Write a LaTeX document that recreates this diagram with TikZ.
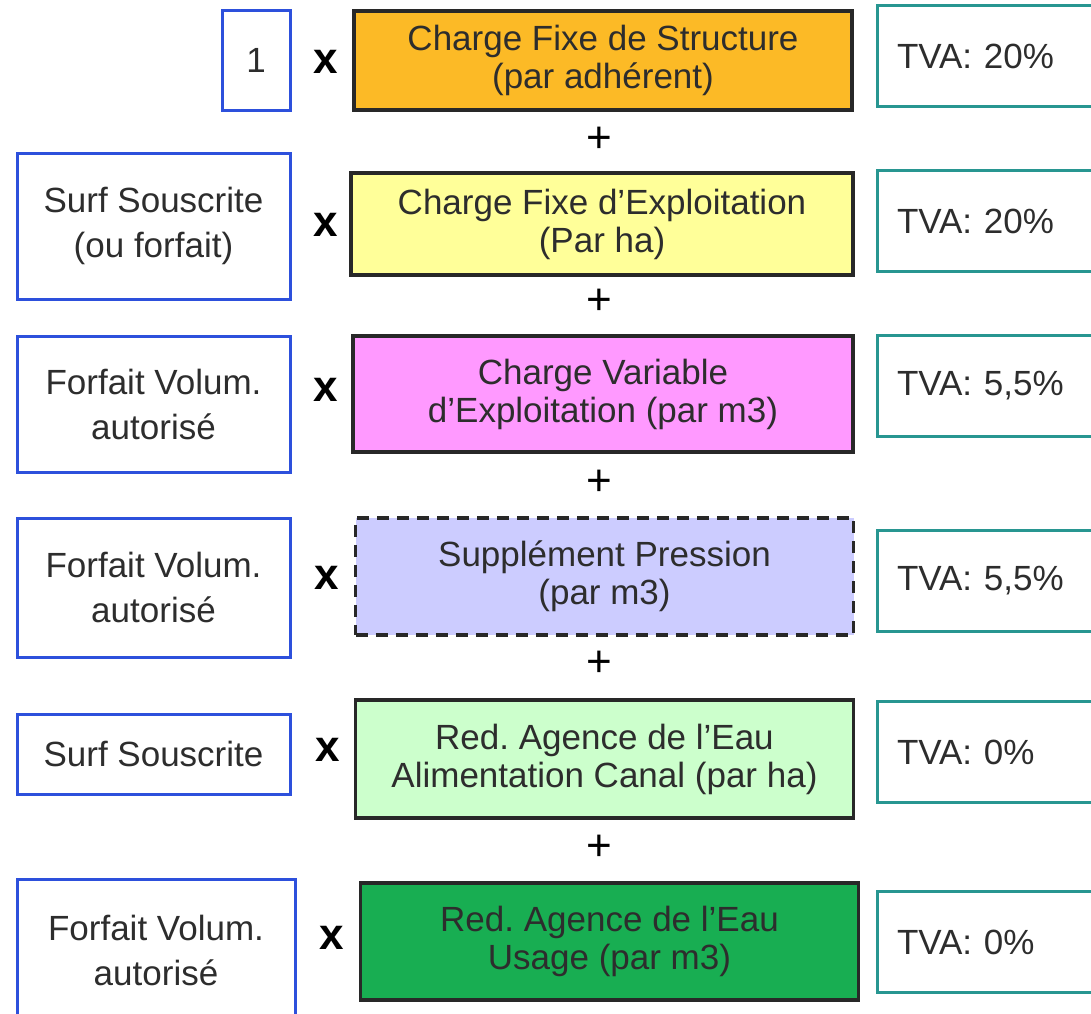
\documentclass[tikz,border=0pt]{standalone}
\usepackage{fontspec}
\setmainfont{Liberation Sans}
\frenchspacing
\definecolor{txtgray}{RGB}{45,45,45}
\definecolor{qtyblue}{RGB}{45,80,220}
\definecolor{tvateal}{RGB}{40,150,145}
\definecolor{edgegray}{RGB}{40,40,40}
\definecolor{orangefill}{RGB}{252,186,38}
\definecolor{yellowfill}{RGB}{255,255,153}
\definecolor{pinkfill}{RGB}{255,153,255}
\definecolor{lilacfill}{RGB}{204,204,255}
\definecolor{mintfill}{RGB}{204,255,204}
\definecolor{greenfill}{RGB}{24,174,82}
\tikzset{
    every node/.style={text=txtgray, font=\fontsize{17.5}{19}\selectfont},
    qtybox/.style={draw=qtyblue, line width=1.5pt, align=center, inner sep=0pt, font=\fontsize{17.5}{22.5}\selectfont},
    chargebox/.style={draw=edgegray, line width=1.8pt, align=center, inner sep=0pt, minimum width=249pt},
    tvabox/.style={draw=tvateal, line width=1.5pt, text width=105pt, inner xsep=10pt, align=left, minimum height=50.5pt},
    timessign/.style={font=\bfseries\fontsize{22}{22}\selectfont, text=black},
    plussign/.style={font=\fontsize{22}{22}\selectfont, text=black}
}
\begin{document}
\begin{tikzpicture}[x=0.5pt, y=-0.5pt]
    \useasboundingbox (0,0) rectangle (1091,1013);
    \clip (0,0) rectangle (1091,1013);
    % quantities
    \node [qtybox, minimum width=34pt, minimum height=50pt] (q1) at (256,60) {1};
    \node [qtybox, minimum width=136.5pt, minimum height=73pt] (q2) at (153.5,226) {Surf Souscrite\\(ou forfait)};
    \node [qtybox, minimum width=136.5pt, minimum height=68pt] (q3) at (153.5,404) {Forfait Volum.\\autorisé};
    \node [qtybox, minimum width=136.5pt, minimum height=69.5pt] (q4) at (153.5,587.5) {Forfait Volum.\\autorisé};
    \node [qtybox, minimum width=136.5pt, minimum height=40pt] (q5) at (153.5,754) {Surf Souscrite};
    \node [qtybox, minimum width=139pt, minimum height=71pt] (q6) at (156,950) {Forfait Volum.\\autorisé};
    % times
    \node [timessign] (m1) at (326,62) {x};
    \node [timessign] (m2) at (326,225) {x};
    \node [timessign] (m3) at (326,390) {x};
    \node [timessign] (m4) at (327,578) {x};
    \node [timessign] (m5) at (328,750) {x};
    \node [timessign] (m6) at (332,938) {x};
    % charges
    \node [chargebox, fill=orangefill, minimum height=49.5pt] (c1) at (603,60.5) {Charge Fixe de Structure\\(par adhérent)};
    \node [chargebox, fill=yellowfill, minimum width=251pt, minimum height=51pt] (c2) at (602,224) {Charge Fixe d’Exploitation\\(Par ha)};
    \node [chargebox, fill=pinkfill, minimum width=250pt, minimum height=58pt] (c3) at (603,394) {Charge Variable\\d’Exploitation (par m3)};
    \node [chargebox, fill=lilacfill, dashed, dash pattern=on 6pt off 4pt, minimum height=58.5pt] (c4) at (604.5,576.5) {Supplément Pression\\(par m3)};
    \node [chargebox, fill=mintfill, minimum height=59pt] (c5) at (604.5,759) {Red. Agence de l’Eau\\Alimentation Canal (par ha)};
    \node [chargebox, fill=greenfill, minimum height=58.5pt] (c6) at (609.5,941.5) {Red. Agence de l’Eau\\Usage (par m3)};
    % sums
    \node [plussign] (p1) at (599,140) {+};
    \node [plussign] (p2) at (599,302) {+};
    \node [plussign] (p3) at (599,483) {+};
    \node [plussign] (p4) at (599,664) {+};
    \node [plussign] (p5) at (599,848) {+};
    % vat rates
    \node [tvabox] (t1) at (1002,56) {TVA:\ 20\%};
    \node [tvabox] (t2) at (1002,221) {TVA:\ 20\%};
    \node [tvabox] (t3) at (1002,385.5) {TVA: 5,5\%};
    \node [tvabox] (t4) at (1002,581) {TVA: 5,5\%};
    \node [tvabox] (t5) at (1002,752) {TVA: 0\%};
    \node [tvabox] (t6) at (1002,942) {TVA: 0\%};
\end{tikzpicture}
\end{document}
